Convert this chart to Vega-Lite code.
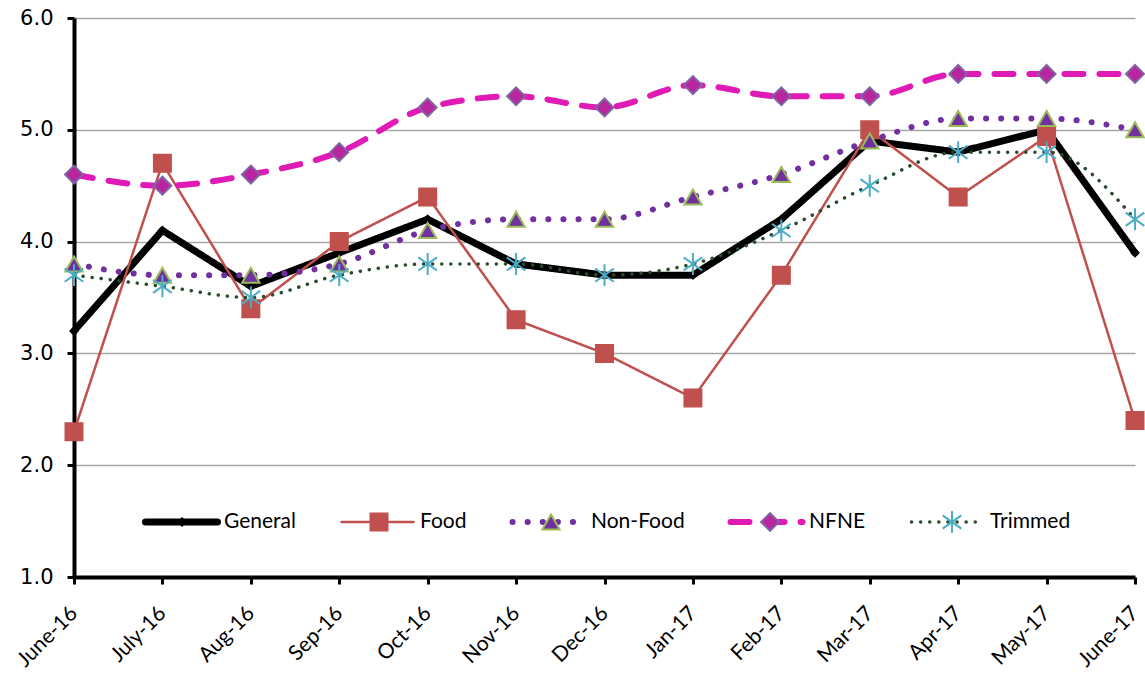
{
  "$schema": "https://vega.github.io/schema/vega-lite/v6.json",
  "autosize": "none",
  "padding": {"left": 74, "top": 18, "right": 10, "bottom": 100},
  "width": 1061,
  "height": 559,
  "background": "white",
  "config": {"view": {"stroke": null}},
  "data": {"values": [
    {"month": "June-16", "series": "General", "value": 3.2},
    {"month": "July-16", "series": "General", "value": 4.1},
    {"month": "Aug-16", "series": "General", "value": 3.6},
    {"month": "Sep-16", "series": "General", "value": 3.9},
    {"month": "Oct-16", "series": "General", "value": 4.2},
    {"month": "Nov-16", "series": "General", "value": 3.8},
    {"month": "Dec-16", "series": "General", "value": 3.7},
    {"month": "Jan-17", "series": "General", "value": 3.7},
    {"month": "Feb-17", "series": "General", "value": 4.2},
    {"month": "Mar-17", "series": "General", "value": 4.9},
    {"month": "Apr-17", "series": "General", "value": 4.8},
    {"month": "May-17", "series": "General", "value": 5.0},
    {"month": "June-17", "series": "General", "value": 3.9},
    {"month": "June-16", "series": "Food", "value": 2.3},
    {"month": "July-16", "series": "Food", "value": 4.7},
    {"month": "Aug-16", "series": "Food", "value": 3.4},
    {"month": "Sep-16", "series": "Food", "value": 4.0},
    {"month": "Oct-16", "series": "Food", "value": 4.4},
    {"month": "Nov-16", "series": "Food", "value": 3.3},
    {"month": "Dec-16", "series": "Food", "value": 3.0},
    {"month": "Jan-17", "series": "Food", "value": 2.6},
    {"month": "Feb-17", "series": "Food", "value": 3.7},
    {"month": "Mar-17", "series": "Food", "value": 5.0},
    {"month": "Apr-17", "series": "Food", "value": 4.4},
    {"month": "May-17", "series": "Food", "value": 4.94},
    {"month": "June-17", "series": "Food", "value": 2.4},
    {"month": "June-16", "series": "Non-Food", "value": 3.8},
    {"month": "July-16", "series": "Non-Food", "value": 3.7},
    {"month": "Aug-16", "series": "Non-Food", "value": 3.7},
    {"month": "Sep-16", "series": "Non-Food", "value": 3.8},
    {"month": "Oct-16", "series": "Non-Food", "value": 4.1},
    {"month": "Nov-16", "series": "Non-Food", "value": 4.2},
    {"month": "Dec-16", "series": "Non-Food", "value": 4.2},
    {"month": "Jan-17", "series": "Non-Food", "value": 4.4},
    {"month": "Feb-17", "series": "Non-Food", "value": 4.6},
    {"month": "Mar-17", "series": "Non-Food", "value": 4.9},
    {"month": "Apr-17", "series": "Non-Food", "value": 5.1},
    {"month": "May-17", "series": "Non-Food", "value": 5.1},
    {"month": "June-17", "series": "Non-Food", "value": 5.0},
    {"month": "June-16", "series": "NFNE", "value": 4.6},
    {"month": "July-16", "series": "NFNE", "value": 4.5},
    {"month": "Aug-16", "series": "NFNE", "value": 4.6},
    {"month": "Sep-16", "series": "NFNE", "value": 4.8},
    {"month": "Oct-16", "series": "NFNE", "value": 5.2},
    {"month": "Nov-16", "series": "NFNE", "value": 5.3},
    {"month": "Dec-16", "series": "NFNE", "value": 5.2},
    {"month": "Jan-17", "series": "NFNE", "value": 5.4},
    {"month": "Feb-17", "series": "NFNE", "value": 5.3},
    {"month": "Mar-17", "series": "NFNE", "value": 5.3},
    {"month": "Apr-17", "series": "NFNE", "value": 5.5},
    {"month": "May-17", "series": "NFNE", "value": 5.5},
    {"month": "June-17", "series": "NFNE", "value": 5.5},
    {"month": "June-16", "series": "Trimmed", "value": 3.7},
    {"month": "July-16", "series": "Trimmed", "value": 3.6},
    {"month": "Aug-16", "series": "Trimmed", "value": 3.5},
    {"month": "Sep-16", "series": "Trimmed", "value": 3.7},
    {"month": "Oct-16", "series": "Trimmed", "value": 3.8},
    {"month": "Nov-16", "series": "Trimmed", "value": 3.8},
    {"month": "Dec-16", "series": "Trimmed", "value": 3.7},
    {"month": "Jan-17", "series": "Trimmed", "value": 3.8},
    {"month": "Feb-17", "series": "Trimmed", "value": 4.1},
    {"month": "Mar-17", "series": "Trimmed", "value": 4.5},
    {"month": "Apr-17", "series": "Trimmed", "value": 4.8},
    {"month": "May-17", "series": "Trimmed", "value": 4.8},
    {"month": "June-17", "series": "Trimmed", "value": 4.2}
  ]},
  "encoding": {
    "x": {
      "field": "month", "type": "nominal", "sort": null,
      "scale": {"type": "point", "padding": 0},
      "axis": {
        "title": null, "labelAngle": -45, "labelAlign": "right", "labelBaseline": "middle",
        "labelFont": "Lato", "labelFontSize": 21, "labelColor": "#000000",
        "labelPadding": 26, "labelOffset": 0,
        "domainColor": "#000000", "domainWidth": 4, "tickColor": "#000000", "tickWidth": 3, "tickSize": 7,
        "grid": false
      }
    },
    "y": {
      "field": "value", "type": "quantitative",
      "scale": {"domain": [1, 6], "nice": false, "zero": false},
      "axis": {
        "title": null, "values": [1, 2, 3, 4, 5, 6], "format": ".1f",
        "labelFont": "DejaVu Sans", "labelFontSize": 21, "labelColor": "#000000", "labelPadding": 14,
        "domainColor": "#000000", "domainWidth": 4, "tickColor": "#000000", "tickWidth": 3, "tickSize": 7,
        "grid": true, "gridColor": "#A6A6A6", "gridWidth": 1.5
      }
    }
  },
  "layer": [
    {
      "transform": [{"filter": "datum.series === 'General' || datum.series === 'Food'"}],
      "mark": {"type": "line", "strokeCap": "round", "strokeJoin": "round", "clip": false},
      "encoding": {
        "color": {"field": "series", "type": "nominal",
          "scale": {"domain": ["General", "Food", "Non-Food", "NFNE", "Trimmed"], "range": ["#000000", "#C0504D", "#7030A0", "#E01AB5", "#2A4B2E"]},
          "legend": {
            "orient": "none", "legendX": 68, "legendY": 491, "direction": "horizontal", "columns": 5,
            "title": null, "symbolType": "stroke", "symbolSize": 5184, "clipHeight": 26,
            "labelFont": "Lato", "labelFontSize": 21, "labelColor": "#000000",
            "labelOffset": 3, "columnPadding": 42,
            "encode": {"symbols": {"update": {"strokeCap": {"value": "round"}}}}
          }},
        "strokeDash": {"field": "series", "type": "nominal",
          "scale": {"domain": ["General", "Food", "Non-Food", "NFNE", "Trimmed"], "range": [[1, 0], [1, 0], [0.1, 15], [19, 16], [0.1, 9]]}},
        "strokeWidth": {"field": "series", "type": "nominal",
          "scale": {"type": "ordinal", "domain": ["General", "Food", "Non-Food", "NFNE", "Trimmed"], "range": [7, 2.5, 6, 6, 3.5]}}
      }
    },
    {
      "transform": [{"filter": "datum.series !== 'General' && datum.series !== 'Food'"}],
      "mark": {"type": "line", "interpolate": "monotone", "strokeCap": "round", "strokeJoin": "round", "clip": false},
      "encoding": {
        "color": {"field": "series", "type": "nominal",
          "scale": {"domain": ["General", "Food", "Non-Food", "NFNE", "Trimmed"]}},
        "strokeDash": {"field": "series", "type": "nominal",
          "scale": {"domain": ["General", "Food", "Non-Food", "NFNE", "Trimmed"]}},
        "strokeWidth": {"field": "series", "type": "nominal",
          "scale": {"type": "ordinal", "domain": ["General", "Food", "Non-Food", "NFNE", "Trimmed"]}}
      }
    },
    {
      "mark": {"type": "point", "filled": true, "opacity": 1, "strokeWidth": 2, "clip": false},
      "encoding": {
        "shape": {"field": "series", "type": "nominal", "sort": null,
          "scale": {"range": ["diamond", "square", "triangle-up", "diamond", "M0,-1L0,1M-0.85,-0.6L0.85,0.6M-0.85,0.6L0.85,-0.6"]},
          "legend": {
            "orient": "none", "legendX": 68, "legendY": 491, "direction": "horizontal", "columns": 5,
            "title": null, "clipHeight": 26, "symbolStrokeWidth": 2,
            "labelFont": "Lato", "labelFontSize": 21, "labelOpacity": 0,
            "labelOffset": 31, "symbolOffset": 28, "columnPadding": 42,
            "encode": {"symbols": {"update": {
              "size": {"value": 5929},
              "strokeWidth": {"value": 2},
              "shape": {"signal": "datum.value === 'General' ? 'M0,-0.11L0.11,0L0,0.11L-0.11,0Z' : datum.value === 'Food' ? 'M-0.22,-0.22H0.22V0.22H-0.22Z' : datum.value === 'Non-Food' ? 'M0,-0.22L0.2,0.16L-0.2,0.16Z' : datum.value === 'NFNE' ? 'M0,-0.23L0.23,0L0,0.23L-0.23,0Z' : 'M0,-0.28L0,0.28M-0.24,-0.17L0.24,0.17M-0.24,0.17L0.24,-0.17'"}
            }}}
          }},
        "fill": {"field": "series", "type": "nominal", "sort": null,
          "scale": {"range": ["#000000", "#C0504D", "#7030A0", "#B8259E", "transparent"]}},
        "stroke": {"field": "series", "type": "nominal", "sort": null,
          "scale": {"range": ["#000000", "#C0504D", "#9BBB59", "#8064A2", "#4BACC6"]}},
        "size": {"field": "series", "type": "nominal", "sort": null,
          "scale": {"type": "ordinal", "range": [50, 289, 300, 320, 480]}}
      }
    }
  ]
}
